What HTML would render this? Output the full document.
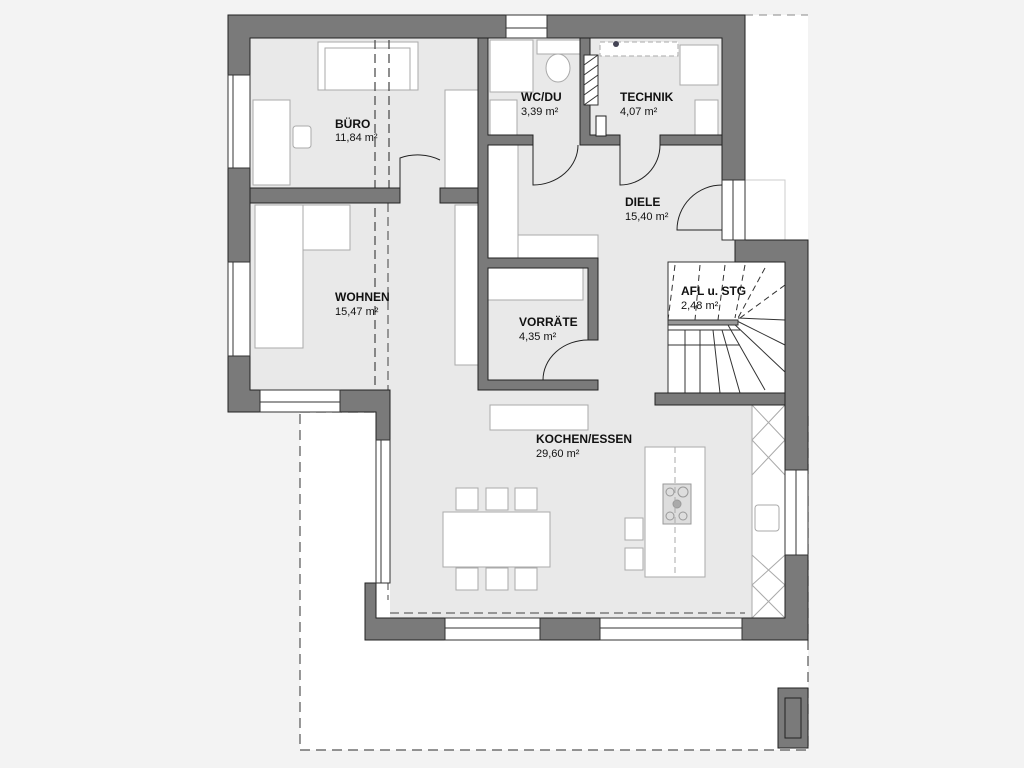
<!DOCTYPE html>
<html><head><meta charset="utf-8"><style>
html,body{margin:0;padding:0;background:#f3f3f3;}
svg{display:block}
text{font-family:"Liberation Sans",Arial,sans-serif;fill:#111}
.t{font-weight:bold;font-size:12px}
.a{font-size:11px}
</style></head><body>
<svg width="1024" height="768" viewBox="0 0 1024 768" xmlns="http://www.w3.org/2000/svg">
<rect width="1024" height="768" fill="#f3f3f3"/>
<!-- terrace & outside white areas -->
<rect x="300" y="412" width="508" height="338" fill="#fff" stroke="#555" stroke-dasharray="10,6" stroke-width="1.2"/>
<rect x="745" y="15" width="63" height="225" fill="#fff"/>
<line x1="745" y1="15" x2="808" y2="15" stroke="#888" stroke-dasharray="8,6"/>
<!-- interior floor -->
<g fill="#e9e9e9">
<rect x="250" y="38" width="472" height="352"/>
<rect x="390" y="250" width="395" height="370"/>
<rect x="722" y="180" width="63" height="80"/>
</g>
<rect x="745" y="180" width="40" height="60" fill="#fff" stroke="#ccc"/>
<!-- furniture -->
<g fill="#fff" stroke="#aaa" stroke-width="1">
<rect x="318" y="42" width="100" height="48"/>
<rect x="325" y="48" width="85" height="42"/>
<rect x="253" y="100" width="37" height="85"/>
<rect x="293" y="126" width="18" height="22" rx="3"/>
<rect x="445" y="90" width="33" height="98"/>
<rect x="255" y="205" width="95" height="45"/>
<rect x="255" y="205" width="48" height="143"/>
<rect x="455" y="205" width="23" height="160"/>
<rect x="490" y="40" width="43" height="52"/>
<rect x="490" y="100" width="27" height="35"/>
<rect x="537" y="40" width="43" height="14"/>
<ellipse cx="558" cy="68" rx="12" ry="14"/>
<rect x="600" y="42" width="78" height="14" stroke-dasharray="5,3"/>
<rect x="680" y="45" width="38" height="40"/>
<rect x="695" y="100" width="23" height="35"/>
<rect x="488" y="145" width="30" height="113"/>
<rect x="518" y="235" width="80" height="23"/>
<rect x="488" y="268" width="95" height="32"/>
<rect x="490" y="405" width="98" height="25"/>
<rect x="443" y="512" width="107" height="55"/>
<rect x="456" y="488" width="22" height="22"/><rect x="486" y="488" width="22" height="22"/><rect x="515" y="488" width="22" height="22"/>
<rect x="456" y="568" width="22" height="22"/><rect x="486" y="568" width="22" height="22"/><rect x="515" y="568" width="22" height="22"/>
<rect x="645" y="447" width="60" height="130"/>
<rect x="625" y="518" width="18" height="22"/><rect x="625" y="548" width="18" height="22"/>
<rect x="752" y="405" width="33" height="213"/>
<rect x="755" y="505" width="24" height="26" rx="3"/>
</g>
<rect x="663" y="484" width="28" height="40" fill="#ddd" stroke="#999"/>
<g fill="none" stroke="#999"><circle cx="670" cy="492" r="4"/><circle cx="683" cy="492" r="5"/><circle cx="677" cy="504" r="4" fill="#aaa"/><circle cx="670" cy="516" r="4"/><circle cx="683" cy="516" r="4"/></g>
<g stroke="#aaa" fill="none">
<path d="M752 405 L785 440 M785 405 L752 440 M752 440 L785 475 M785 440 L752 475 M752 555 L785 585 M785 555 L752 585 M752 585 L785 618 M785 585 L752 618"/>
<line x1="675" y1="447" x2="675" y2="577" stroke-dasharray="6,4"/>
</g>
<g stroke="#444" stroke-dasharray="9,5" stroke-width="1.2">
<line x1="375" y1="40" x2="375" y2="390"/><line x1="389" y1="40" x2="389" y2="188"/>
</g>
<line x1="388" y1="203" x2="388" y2="600" stroke="#444" stroke-dasharray="9,5"/>
<line x1="390" y1="613" x2="745" y2="613" stroke="#444" stroke-dasharray="9,5"/>
<!-- stairs -->
<g stroke="#333" fill="none" stroke-width="1">
<rect x="668" y="262" width="117" height="131" fill="#fff"/>
<path d="M668 330 L740 330 M668 345 L740 345 M685 330 L685 393 M700 330 L700 393 M713 330 L720 393 M722 330 L740 393 M728 325 L765 390 M732 322 L785 372 M735 320 L785 345 M738 318 L785 320" />
<path d="M675 265 L668 320 M700 265 L695 320 M725 265 L718 320 M745 265 L735 318 M765 268 L738 318 M785 285 L740 318" stroke-dasharray="6,4"/>
<rect x="668" y="320" width="70" height="5" fill="#999"/>
</g>
<!-- walls -->
<g fill="#7a7a7a" stroke="#222" stroke-width="1">
<path d="M228 15 H506 V38 H250 V390 H260 V412 H228 Z"/>
<path d="M547 15 H745 V180 H722 V38 H547 Z"/>
<path d="M340 390 H390 V440 H376 V412 H340 Z"/>
<path d="M365 583 H376 V618 H445 V640 H365 Z"/>
<path d="M540 618 H600 V640 H540 Z"/>
<path d="M742 618 H785 V555 H808 V640 H742 Z"/>
<path d="M735 240 H808 V470 H785 V262 H735 Z"/>
<path d="M655 393 H785 V405 H655 Z"/>
<path d="M250 188 H400 V203 H250 Z"/>
<path d="M440 188 H486 V203 H440 Z"/>
<path d="M478 38 H488 V135 H533 V145 H488 V258 H598 V340 H588 V268 H488 V380 H598 V390 H478 Z"/>
<path d="M580 38 H590 V135 H620 V145 H580 Z"/>
<path d="M660 135 H722 V145 H660 Z"/>
<path d="M778 688 H808 V748 H778 Z"/>
</g>
<rect x="785" y="698" width="16" height="40" fill="#7a7a7a" stroke="#222"/>
<rect x="584" y="55" width="14" height="50" fill="#fff" stroke="#333"/>
<path d="M584 65 L598 55 M584 75 L598 65 M584 85 L598 75 M584 95 L598 85 M584 105 L598 95" stroke="#333"/>
<rect x="596" y="116" width="10" height="20" fill="#fff" stroke="#222"/>
<!-- windows -->
<g fill="#fff" stroke="#333" stroke-width="1">
<rect x="506" y="15" width="41" height="23"/>
<rect x="228" y="75" width="22" height="93"/>
<rect x="228" y="262" width="22" height="94"/>
<rect x="260" y="390" width="80" height="22"/>
<rect x="376" y="440" width="14" height="143"/>
<rect x="445" y="618" width="95" height="22"/>
<rect x="600" y="618" width="142" height="22"/>
<rect x="785" y="470" width="23" height="85"/>
<rect x="722" y="180" width="23" height="60"/>
</g>
<g stroke="#333" fill="none"><line x1="233" y1="75" x2="233" y2="168"/><line x1="233" y1="262" x2="233" y2="356"/><line x1="260" y1="402" x2="340" y2="402"/><line x1="381" y1="440" x2="381" y2="583"/><line x1="445" y1="628" x2="540" y2="628"/><line x1="600" y1="628" x2="742" y2="628"/><line x1="796" y1="470" x2="796" y2="555"/><line x1="506" y1="28" x2="547" y2="28"/><line x1="733" y1="180" x2="733" y2="240"/></g>
<!-- doors -->
<g stroke="#222" fill="none" stroke-width="1">
<path d="M400 188 L400 158 A40 30 0 0 1 440 160"/>
<path d="M533 145 L533 185 A45 40 0 0 0 578 145"/>
<path d="M620 145 L620 185 A40 40 0 0 0 660 145"/>
<path d="M722 185 A45 45 0 0 0 677 230 L722 230"/>
<path d="M588 340 A45 40 0 0 0 543 380"/>
</g>
<circle cx="616" cy="44" r="3" fill="#445"/>
<!-- labels -->
<text class="t" x="335" y="128">BÜRO</text><text class="a" x="335" y="141">11,84 m²</text>
<text class="t" x="521" y="101">WC/DU</text><text class="a" x="521" y="115">3,39 m²</text>
<text class="t" x="620" y="101">TECHNIK</text><text class="a" x="620" y="115">4,07 m²</text>
<text class="t" x="625" y="206">DIELE</text><text class="a" x="625" y="220">15,40 m²</text>
<text class="t" x="335" y="301">WOHNEN</text><text class="a" x="335" y="315">15,47 m²</text>
<text class="t" x="519" y="326">VORRÄTE</text><text class="a" x="519" y="340">4,35 m²</text>
<text class="t" x="681" y="295">AFL u. STG</text><text class="a" x="681" y="309">2,48 m²</text>
<text class="t" x="536" y="443">KOCHEN/ESSEN</text><text class="a" x="536" y="457">29,60 m²</text>
</svg>
</body></html>
